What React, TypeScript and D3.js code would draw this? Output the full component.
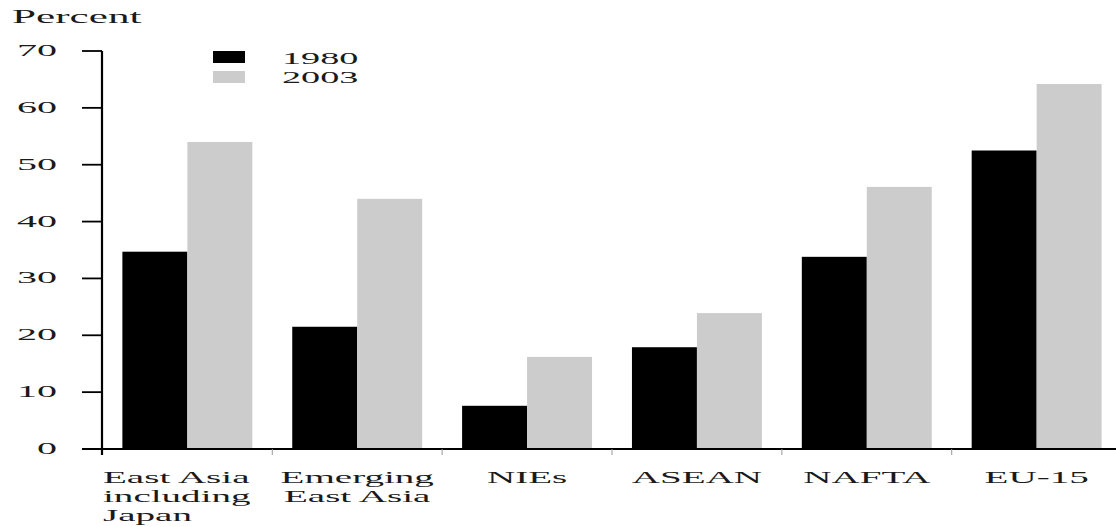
import React from "react";
import * as d3 from "d3";

const categories: string[][] = [
  ["East Asia", "including", "Japan"],
  ["Emerging", "East Asia"],
  ["NIEs"],
  ["ASEAN"],
  ["NAFTA"],
  ["EU-15"],
];
const series: string[] = ["1980", "2003"];
const values1980: number[] = [34.7, 21.5, 7.6, 17.9, 33.8, 52.5];
const values2003: number[] = [54.0, 44.0, 16.2, 23.9, 46.1, 64.2];
const yTicks: number[] = [0, 10, 20, 30, 40, 50, 60, 70];
const yLabel = "Percent";

const W = 1116;
const H = 527;
const FONT = "'Liberation Serif', 'DejaVu Serif', serif";
const COLORS = ["#000000", "#cccccc"];

function SText(props: {
  x: number;
  y: number;
  sx: number;
  size: number;
  anchor?: string;
  children: React.ReactNode;
}) {
  const { x, y, sx, size, anchor = "start", children } = props;
  return (
    <text
      transform={`translate(${x},${y}) scale(${sx},1)`}
      textAnchor={anchor}
      fontFamily={FONT}
      fontSize={size}
      fill="#1a1a1a"
    >
      {children}
    </text>
  );
}

export default function App() {
  const keys = categories.map((c) => c.join(" "));
  const x = d3
    .scaleBand<string>()
    .domain(keys)
    .range([102, 1122])
    .paddingInner(0.235)
    .paddingOuter(0.12);
  const xs = d3
    .scaleBand<string>()
    .domain(series)
    .range([0, x.bandwidth()])
    .padding(0);
  const y = d3.scaleLinear().domain([0, 70]).range([449, 51]);
  const data = [values1980, values2003];
  const gap = x.step() - x.bandwidth();

  return (
    <svg
      width={W}
      height={H}
      style={{ position: "absolute", left: 0, top: 0, background: "#fff" }}
    >
      <rect width={W} height={H} fill="#fff" />
      {/* bars */}
      {keys.map((k, i) =>
        series.map((s, j) => (
          <rect
            key={k + s}
            x={(x(k) as number) + (xs(s) as number)}
            y={y(data[j][i])}
            width={xs.bandwidth()}
            height={y(0) - y(data[j][i])}
            fill={COLORS[j]}
          />
        ))
      )}
      {/* y axis */}
      <line x1={102} x2={102} y1={y(70)} y2={y(0) + 6} stroke="#000" strokeWidth={2.2} />
      {yTicks.map((t) => (
        <g key={t}>
          <line x1={82} x2={102} y1={y(t)} y2={y(t)} stroke="#000" strokeWidth={1.8} />
          <SText x={57} y={y(t) + 5} sx={2.5} size={16} anchor="end">
            {t}
          </SText>
        </g>
      ))}
      {/* x axis */}
      <line x1={82} x2={W} y1={y(0)} y2={y(0)} stroke="#000" strokeWidth={2.2} />
      {keys.slice(1).map((k) => (
        <line
          key={"t" + k}
          x1={(x(k) as number) - gap / 2}
          x2={(x(k) as number) - gap / 2}
          y1={y(0)}
          y2={y(0) + 6}
          stroke="#999"
          strokeWidth={1}
        />
      ))}
      {/* x labels */}
      {categories.map((lines, i) => {
        const k = keys[i];
        const cx = (x(k) as number) + x.bandwidth() / 2;
        return lines.map((ln, li) => (
          <SText
            key={k + li}
            x={i === 0 ? 103 : cx}
            y={483 + li * 19}
            sx={2.3}
            size={17}
            anchor={i === 0 ? "start" : "middle"}
          >
            {ln}
          </SText>
        ));
      })}
      {/* y label */}
      <SText x={12} y={23} sx={2.4} size={18}>
        {yLabel}
      </SText>
      {/* legend */}
      {series.map((s, j) => (
        <g key={"lg" + s}>
          <rect x={213} y={51 + j * 20} width={32} height={12} fill={COLORS[j]} />
          <SText x={282} y={64 + j * 19} sx={2.25} size={17}>
            {s}
          </SText>
        </g>
      ))}
    </svg>
  );
}
